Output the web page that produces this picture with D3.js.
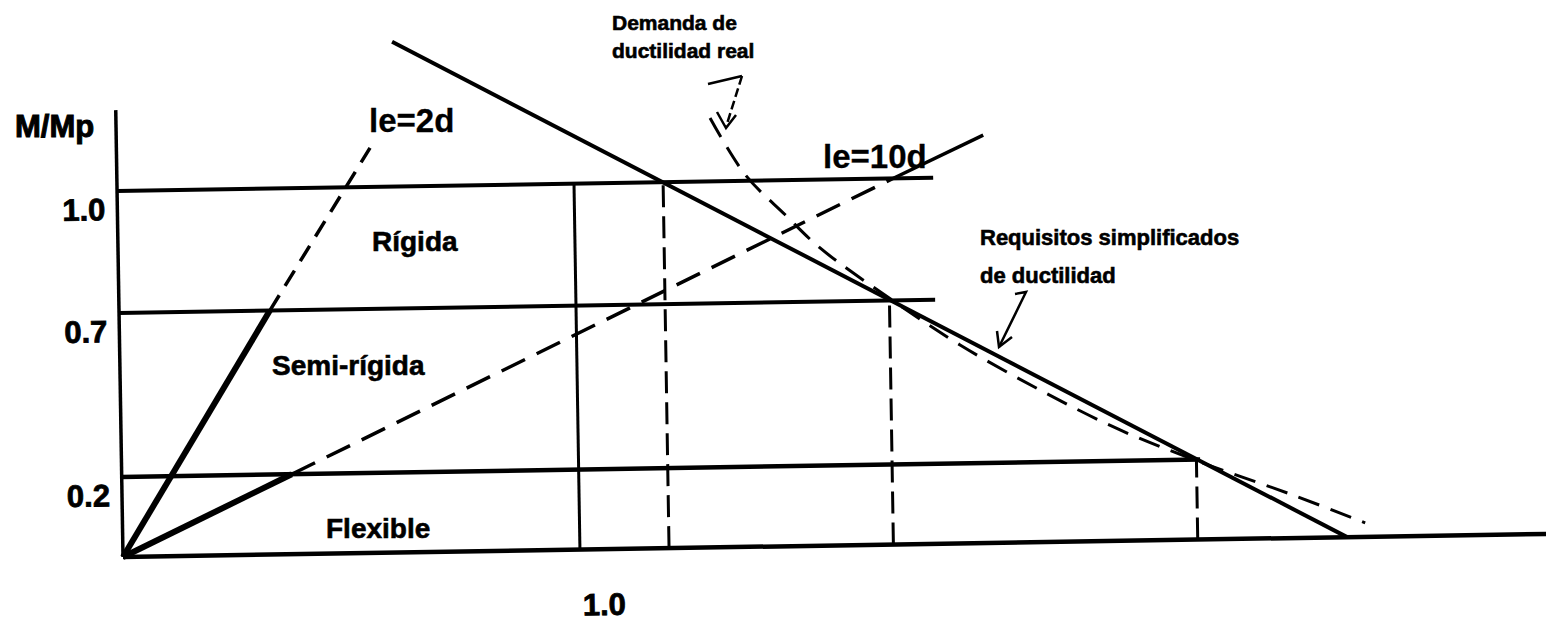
<!DOCTYPE html>
<html>
<head>
<meta charset="utf-8">
<script src="https://cdn.jsdelivr.net/npm/d3@7"></script>
<style>
  html, body { margin: 0; padding: 0; background: #fff; }
</style>
</head>
<body>
<script>
// Values: x = rotation (units of the 1.0 tick), y = M/Mp
const yTicks = [0.2, 0.7, 1.0];
const xTicks = [1.0];
const levels = [1.0, 0.7, 0.2];
const levelEnds = [1.786, 1.786, 2.36];
const dropX = [1.195, 1.686, 2.352];
const zoneNames = ["Rígida", "Semi-rígida", "Flexible"];

const le2dSolid = [[0, 0], [0.330, 0.7]];
const le2dDashed = [[0.330, 0.7], [0.555, 1.096]];
const le10dSolid = [[0, 0], [0.372, 0.2]];
const le10dDashed = [[0.372, 0.2], [1.698, 1.0]];
const le10dTop = [[1.698, 1.0], [1.897, 1.103]];
const simplified = [[0.607, 1.356], [2.679, 0]];
const demand = [
  [1.300, 1.156], [1.375, 1.015], [1.461, 0.915], [1.536, 0.832],
  [1.692, 0.701], [1.839, 0.561], [2.012, 0.420], [2.186, 0.294],
  [2.360, 0.194], [2.556, 0.110], [2.719, 0.035]
];
const xMax = 3.115;
const yMax = 1.199;

const W = 1546, H = 626;
const FONT = "'Liberation Sans', Arial, Helvetica, sans-serif";

// the scan is tilted slightly, so the whole plot sits in a rotated group
const origin = [123, 557];
const tilt = -0.93;

const x = d3.scaleLinear().domain([0, 1]).range([0, 457]);
// the drawing is not to scale vertically: 0.2 / 0.7 / 1.0 sit at hand-placed heights
const y = d3.scaleLinear().domain([0, 0.2, 0.7, 1.0]).range([0, -80, -244, -366]);

const line = d3.line().x((d) => x(d[0])).y((d) => y(d[1]));

const svg = d3.select("body")
  .append("svg")
  .attr("width", W)
  .attr("height", H)
  .attr("viewBox", `0 0 ${W} ${H}`)
  .style("display", "block")
  .style("font-family", FONT);

svg.append("rect").attr("width", W).attr("height", H).attr("fill", "white");

const g = svg.append("g").attr("transform", `translate(${origin}) rotate(${tilt})`);

function stroke(sel, w, dash) {
  sel.attr("fill", "none").attr("stroke", "#000").attr("stroke-width", w)
    .attr("stroke-linecap", "butt").attr("stroke-linejoin", "miter");
  if (dash) sel.attr("stroke-dasharray", dash);
  return sel;
}

// axes
stroke(g.append("path").attr("d", line([[0, yMax], [0, 0]])), 3.5);
stroke(g.append("path").attr("d", line([[0, 0], [xMax, 0]])), 4.5);

// zone boundaries
levels.forEach((lev, i) => {
  stroke(g.append("path").attr("d", line([[0, lev], [levelEnds[i], lev]])), i === 2 ? 4.5 : 4);
});

// x = 1.0 divider
stroke(g.append("path").attr("d", line([[1, 0], [1, 1.0]])), 3);

// dashed drops from the simplified line
dropX.forEach((dx, i) => {
  stroke(g.append("path").attr("d", line([[dx, 0], [dx, levels[i]]])), 3, "22,9");
});

// le = 2d
stroke(g.append("path").attr("d", line(le2dSolid)), 6);
stroke(g.append("path").attr("d", line(le2dDashed)), 3.5, "18,11");

// le = 10d
stroke(g.append("path").attr("d", line(le10dSolid)), 6);
stroke(g.append("path").attr("d", line(le10dDashed)), 3.5, "26,13");
stroke(g.append("path").attr("d", line(le10dTop)), 3.5);

// simplified ductility requirement
stroke(g.append("path").attr("d", line(simplified)), 4);

// real ductility demand
stroke(g.append("path").attr("d", line.curve(d3.curveCatmullRom)(demand)), 3, "22,12");
line.curve(d3.curveLinear);

// heavy scanned lettering
function heavy(sel, w) {
  return sel.attr("stroke", "#000").attr("stroke-width", w).attr("paint-order", "stroke");
}

// tick labels
const yAxis = g.append("g")
  .call(d3.axisLeft(y).tickValues(yTicks).tickSize(0).tickPadding(12).tickFormat(d3.format(".1f")));
yAxis.select(".domain").remove();
yAxis.selectAll("text")
  .attr("dy", "0.92em")
  .attr("font-family", FONT)
  .attr("font-weight", "bold")
  .attr("font-size", 31)
  .attr("fill", "#000")
  .call(heavy, 0.8);

const xAxis = g.append("g")
  .call(d3.axisBottom(x).tickValues(xTicks).tickSize(0).tickPadding(44).tickFormat(d3.format(".1f")));
xAxis.select(".domain").remove();
xAxis.selectAll("text")
  .attr("dx", 23)
  .attr("font-family", FONT)
  .attr("font-weight", "bold")
  .attr("font-size", 31)
  .attr("fill", "#000")
  .call(heavy, 0.8);

// texts
function label(txt, px, py, size, w) {
  svg.append("text")
    .attr("x", px).attr("y", py)
    .attr("font-size", size)
    .attr("font-weight", "bold")
    .attr("fill", "#000")
    .call(heavy, w)
    .text(txt);
}

label("M/Mp", 15, 137, 31, 1);
label("le=2d", 369, 132, 33, 0.3);
label("le=10d", 823, 168, 33, 0.3);
label(zoneNames[0], 372, 251, 28, 0.6);
label(zoneNames[1], 272, 375, 28, 0.6);
label(zoneNames[2], 326, 538, 28, 0.6);
label("Demanda de", 612, 30, 21, 0.6);
label("ductilidad real", 612, 58, 21, 0.6);
label("Requisitos simplificados", 980, 245, 22, 0.6);
label("de ductilidad", 980, 283, 22, 0.6);

// hand-drawn pointer arrows
stroke(svg.append("path").attr("d", "M708,84 L742,76"), 2.5);
stroke(svg.append("path").attr("d", "M742,76 L726,127"), 2.5, "9,4");
stroke(svg.append("path").attr("d", "M717,112 L726,128 L736,115"), 2.5);
stroke(svg.append("path").attr("d", "M1015,294 L1026,292 L999,347"), 2.5);
stroke(svg.append("path").attr("d", "M997,331 L999,347 L1012,337"), 2.5);
</script>
</body>
</html>
